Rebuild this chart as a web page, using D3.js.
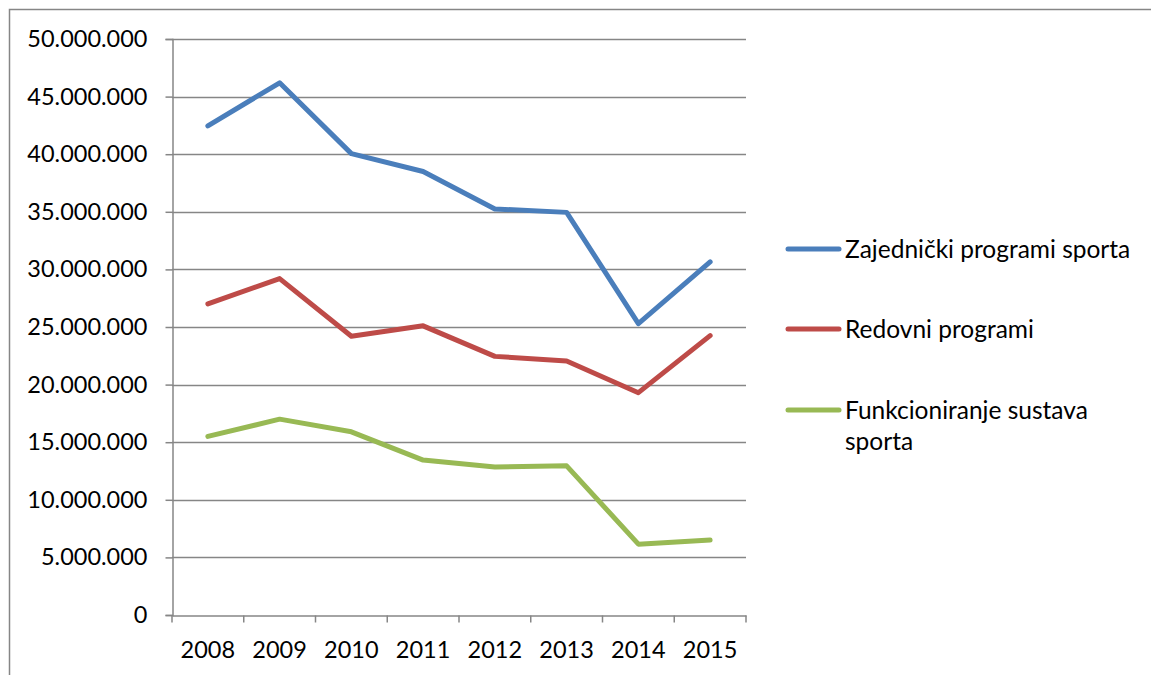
<!DOCTYPE html>
<html>
<head>
<meta charset="utf-8">
<script src="https://cdn.jsdelivr.net/npm/d3@7"></script>
<style>
  body { margin: 0; background: #fff; }
  text { font-family: Lato, "Open Sans", sans-serif; fill: #000; }
</style>
</head>
<body>
<div id="chart"></div>
<script>
// data
const years = ["2008", "2009", "2010", "2011", "2012", "2013", "2014", "2015"];
const zajednicki = [42450000, 46200000, 40050000, 38500000, 35250000, 34950000, 25300000, 30650000];
const redovni = [27000000, 29200000, 24200000, 25100000, 22450000, 22050000, 19300000, 24250000];
const funkcioniranje = [15500000, 17000000, 15900000, 13450000, 12850000, 12950000, 6150000, 6500000];
const seriesNames = ["Zajednički programi sporta", "Redovni programi", "Funkcioniranje sustava sporta"];
const yTicks = [0, 5000000, 10000000, 15000000, 20000000, 25000000, 30000000, 35000000, 40000000, 45000000, 50000000];

const W = 1151, H = 675;
const plotL = 172, plotR = 746, plotT = 39, plotB = 615;
const colors = ["#4A7EBB", "#BE4B48", "#98B954"];
const grid = "#868686";

const svg = d3.select("#chart").append("svg").attr("width", W).attr("height", H);

// outer chart border
svg.append("rect").attr("x", 9.5).attr("y", 9.5).attr("width", W + 10).attr("height", H + 10)
   .attr("fill", "none").attr("stroke", grid).attr("stroke-width", 1.5);

const x = d3.scaleBand().domain(years).range([plotL, plotR]);
const y = d3.scaleLinear().domain([0, 50000000]).range([plotB, plotT]);
const fmt = d => d3.format(",")(d).replace(/,/g, ".");

// gridlines
svg.append("g").selectAll("line").data(yTicks.slice(1)).enter().append("line")
   .attr("x1", plotL).attr("x2", plotR)
   .attr("y1", d => Math.round(y(d)) + 0.5).attr("y2", d => Math.round(y(d)) + 0.5)
   .attr("stroke", grid).attr("stroke-width", 1.5);

// y axis
const yAxis = svg.append("g").attr("transform", "translate(" + (plotL + 0.5) + ",0)")
   .call(d3.axisLeft(y).tickValues(yTicks).tickFormat(fmt).tickSize(7).tickPadding(18));
yAxis.select(".domain").attr("stroke", grid).attr("stroke-width", 1.5);
yAxis.selectAll(".tick line").attr("stroke", grid).attr("stroke-width", 1.5);
yAxis.selectAll("text").attr("font-size", 23.5).attr("font-family", "Lato").attr("fill", "#000");

// x axis
const xAxis = svg.append("g").attr("transform", "translate(0," + (plotB + 0.5) + ")")
   .call(d3.axisBottom(x).tickSize(0).tickPadding(26));
xAxis.select(".domain").attr("stroke", grid).attr("stroke-width", 1.5);
xAxis.selectAll("text").attr("font-size", 23.5).attr("font-family", "Lato").attr("fill", "#000");
const bounds = years.map(d => x(d)).concat([plotR]);
xAxis.selectAll(".bound").data(bounds).enter().append("line")
   .attr("x1", d => d).attr("x2", d => d).attr("y1", 0).attr("y2", 7)
   .attr("stroke", grid).attr("stroke-width", 1.5);

// lines
const allSeries = [zajednicki, redovni, funkcioniranje];
const line = d3.line().x((d, i) => x(years[i]) + x.bandwidth() / 2).y(d => y(d));
allSeries.forEach((s, k) => {
  svg.append("path").datum(s).attr("d", line)
     .attr("fill", "none").attr("stroke", colors[k]).attr("stroke-width", 5)
     .attr("stroke-linecap", "round").attr("stroke-linejoin", "round");
});

// legend
const legY = [249, 329, 410];
const leg = svg.append("g");
seriesNames.forEach((name, k) => {
  leg.append("line").attr("x1", 788).attr("x2", 839).attr("y1", legY[k]).attr("y2", legY[k])
     .attr("stroke", colors[k]).attr("stroke-width", 5).attr("stroke-linecap", "round");
  const t = leg.append("text").attr("x", 845).attr("y", legY[k] + 8.5).attr("font-size", 24.5);
  if (k === 2) {
    t.append("tspan").attr("x", 845).text("Funkcioniranje sustava");
    t.append("tspan").attr("x", 845).attr("dy", 31).text("sporta");
  } else {
    t.text(name);
  }
});
</script>
</body>
</html>
